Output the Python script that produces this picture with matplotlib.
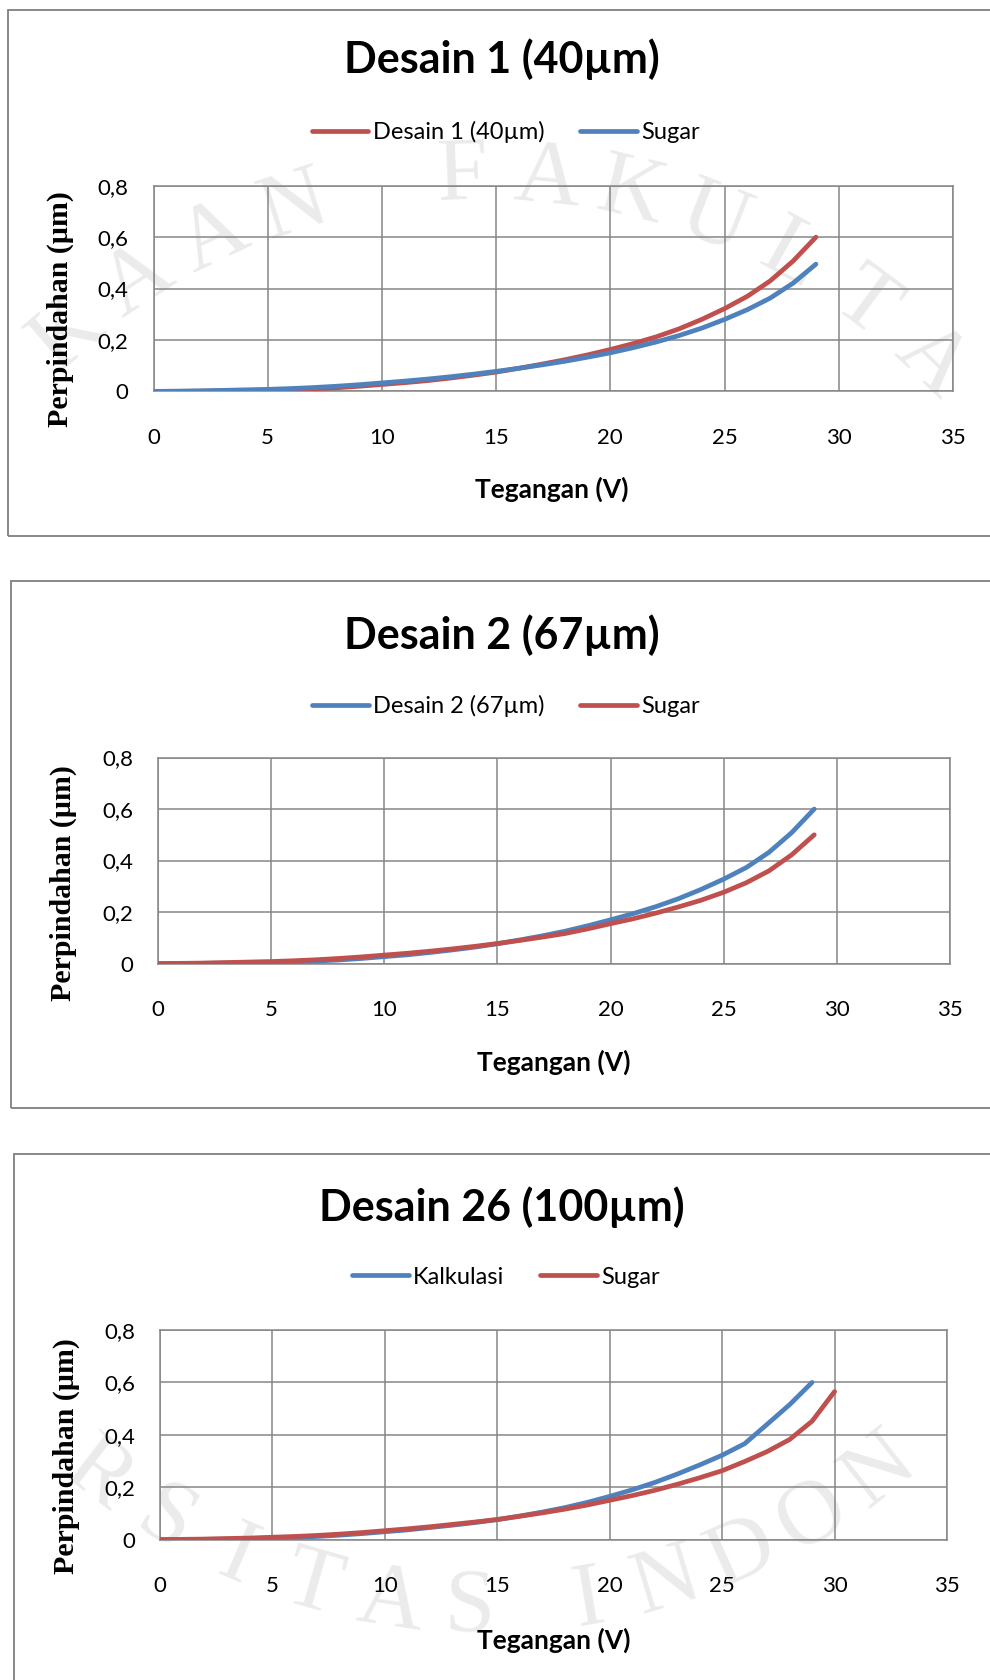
"""
Perpindahan vs tegangan untuk tiga desain, dibandingkan dengan Sugar
"""

import numpy as np
import matplotlib.pyplot as plt
from matplotlib.patches import Rectangle

plt.rcParams['font.family'] = ['Lato', 'DejaVu Sans']

RED = '#C0504D'
BLUE = '#4F81BD'
GRID = '#868686'

# Desain 1 (40um)
v_d1 = list(range(0, 30))
d1_desain = [0, 0.000, 0.001, 0.002, 0.003, 0.004, 0.007, 0.010, 0.014, 0.020,
             0.027, 0.034, 0.042, 0.052, 0.063, 0.075, 0.090, 0.106, 0.123, 0.142,
             0.163, 0.186, 0.212, 0.243, 0.280, 0.322, 0.370, 0.430, 0.507, 0.600]
d1_sugar = [0, 0.001, 0.002, 0.004, 0.006, 0.008, 0.011, 0.015, 0.020, 0.026,
            0.033, 0.040, 0.048, 0.057, 0.067, 0.078, 0.090, 0.103, 0.117, 0.133,
            0.150, 0.170, 0.192, 0.217, 0.246, 0.280, 0.318, 0.363, 0.421, 0.495]

# Desain 2 (67um)
v_d2 = list(range(0, 30))
d2_desain = [0, 0.000, 0.001, 0.002, 0.003, 0.004, 0.007, 0.010, 0.014, 0.020,
             0.027, 0.034, 0.043, 0.053, 0.064, 0.077, 0.092, 0.108, 0.126, 0.147,
             0.170, 0.194, 0.221, 0.252, 0.288, 0.328, 0.373, 0.432, 0.508, 0.600]
d2_sugar = [0, 0.001, 0.002, 0.004, 0.006, 0.008, 0.011, 0.015, 0.020, 0.026,
            0.033, 0.040, 0.048, 0.057, 0.067, 0.078, 0.090, 0.103, 0.117, 0.135,
            0.155, 0.174, 0.196, 0.220, 0.246, 0.277, 0.314, 0.360, 0.422, 0.500]

# Desain 26 (100um)
v_d26_kalk = list(range(0, 30))
d26_kalk = [0, 0.000, 0.001, 0.002, 0.004, 0.006, 0.009, 0.012, 0.017, 0.023,
            0.030, 0.037, 0.046, 0.055, 0.065, 0.076, 0.090, 0.105, 0.122, 0.142,
            0.165, 0.190, 0.218, 0.250, 0.285, 0.322, 0.366, 0.440, 0.515, 0.600]
v_d26_sugar = list(range(0, 31))
d26_sugar = [0, 0.001, 0.002, 0.004, 0.006, 0.009, 0.012, 0.016, 0.021, 0.027,
             0.034, 0.041, 0.049, 0.058, 0.067, 0.077, 0.089, 0.102, 0.116, 0.132,
             0.150, 0.168, 0.188, 0.211, 0.236, 0.263, 0.298, 0.336, 0.382, 0.452,
             0.565]

x_ticks = [0, 5, 10, 15, 20, 25, 30, 35]
y_ticks = [0, 0.2, 0.4, 0.6, 0.8]
y_ticklabels = ['0', '0,2', '0,4', '0,6', '0,8']

W, H = 990, 1680

# tiap panel: judul, seri (nama, x, y, warna), posisi kotak dan area plot (px)
panels = [
    dict(title='Desain 1 (40µm)',
         series=[('Desain 1 (40µm)', v_d1, d1_desain, RED),
                 ('Sugar', v_d1, d1_sugar, BLUE)],
         box=(7.5, 9.6, 536), area=(153.5, 953, 185.7, 391.4),
         title_y=59, legend_y=132, ylab=(60, 309), xlab=(552, 489)),
    dict(title='Desain 2 (67µm)',
         series=[('Desain 2 (67µm)', v_d2, d2_desain, BLUE),
                 ('Sugar', v_d2, d2_sugar, RED)],
         box=(11, 581, 1108), area=(158, 950, 757.5, 963.6),
         title_y=635, legend_y=706, ylab=(63, 883), xlab=(554, 1062)),
    dict(title='Desain 26 (100µm)',
         series=[('Kalkulasi', v_d26_kalk, d26_kalk, BLUE),
                 ('Sugar', v_d26_sugar, d26_sugar, RED)],
         box=(14, 1154, 1700), area=(160, 947, 1330, 1539.6),
         title_y=1207.5, legend_y=1277, ylab=(66, 1456), xlab=(554, 1640)),
]


def fx(px):
    return px / W


def fy(py):
    return 1 - py / H


def arc_text(fig, text, t_first, step, cx, cy, a, b, upper=True):
    """huruf tipis mengikuti elips (cap halaman di belakang grafik)"""
    t = t_first
    for ch in text:
        gap = 0.5 if (ch == ' ' and not upper) else 1.0
        if ch != ' ':
            rad = np.radians(t)
            x = cx + a * np.cos(rad)
            y = cy + b * np.sin(rad)
            if upper:
                rot = np.degrees(np.arctan2(-b * np.cos(rad), a * np.sin(rad)))
            else:
                rot = np.degrees(np.arctan2(b * np.cos(rad), -a * np.sin(rad)))
            if 50 < x < W - 50 and 40 < y < H - 40:
                fig.text(x / W, y / H, ch, ha='center', va='center', rotation=rot,
                         rotation_mode='anchor', fontsize=66, color='#ebebeb',
                         family=['Liberation Serif', 'DejaVu Serif'], zorder=-10)
        t = t - step * gap if upper else t + step * gap


fig = plt.figure(figsize=(W / 100, H / 100), dpi=100)
fig.patch.set_facecolor('white')

# cap perpustakaan di latar
wm_cx, wm_cy, wm_a, wm_b = 485, H - 901, 670, 724
arc_text(fig, 'PERPUSTAKAAN FAKULTAS TEKNIK', 92 + 13 * 7.3, 7.3,
         wm_cx, wm_cy, wm_a, wm_b, upper=True)
arc_text(fig, 'UNIVERSITAS INDONESIA', 268.7 - 10 * 6.8, 6.8,
         wm_cx, wm_cy + 15, wm_a, wm_b, upper=False)

for p in panels:
    bx, btop, bbot = p['box']
    fig.add_artist(Rectangle((fx(bx), fy(bbot)), fx(W + 20 - bx), (bbot - btop) / H,
                             transform=fig.transFigure, facecolor='none',
                             edgecolor='#7f7f7f', linewidth=1.3, zorder=-5))

    left, right, top, bottom = p['area']
    ax = fig.add_axes([fx(left), fy(bottom), (right - left) / W, (bottom - top) / H])
    ax.set_zorder(2)
    ax.set_facecolor('none')

    lines = []
    for name, xs, ys, color in p['series']:
        ln, = ax.plot(xs, ys, color=color, linewidth=3.4, solid_capstyle='round',
                      solid_joinstyle='round', label=name, zorder=3)
        lines.append(ln)

    ax.set_xlim(0, 35)
    ax.set_ylim(0, 0.8)
    ax.set_xticks(x_ticks)
    ax.set_yticks(y_ticks)
    ax.set_yticklabels(y_ticklabels)
    ax.tick_params(axis='both', length=0, labelsize=16, colors='black')
    ax.tick_params(axis='y', pad=18)
    ax.tick_params(axis='x', pad=26)
    ax.grid(True, color=GRID, linewidth=1.1)
    ax.set_axisbelow(True)
    for s in ax.spines.values():
        s.set_color(GRID)
        s.set_linewidth(1.1)

    fig.text(fx(502), fy(p['title_y']), p['title'], ha='center', va='center',
             fontsize=31, fontweight='bold')

    fig.legend(handles=lines, loc='center', bbox_to_anchor=(fx(506), fy(p['legend_y'])),
               ncol=2, frameon=False, fontsize=17, handlelength=2.4,
               handletextpad=0.2, columnspacing=1.5)

    fig.text(fx(p['ylab'][0]), fy(p['ylab'][1]), 'Perpindahan (µm)', rotation=90,
             ha='center', va='center', fontsize=21.5, fontweight='bold',
             family=['Liberation Serif', 'DejaVu Serif'])
    fig.text(fx(p['xlab'][0]), fy(p['xlab'][1]), 'Tegangan (V)', ha='center',
             va='center', fontsize=19, fontweight='bold')

fig.savefig('out.png', dpi=100)
